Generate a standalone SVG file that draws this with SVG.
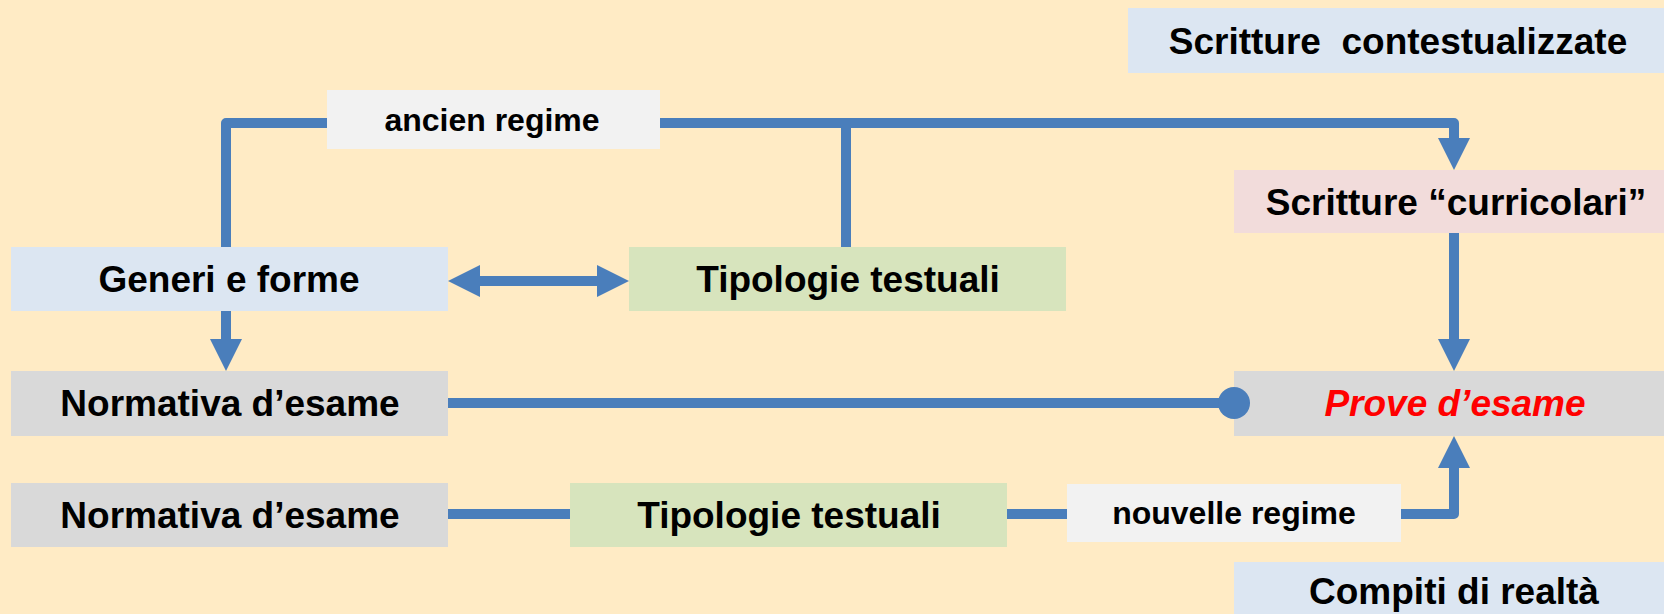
<svg xmlns="http://www.w3.org/2000/svg" width="1664" height="614" viewBox="0 0 1664 614">
  <defs>
    <style>
      .bg { fill: #FFEBC5; }
      .box-blue { fill: #DCE6F2; }
      .box-green { fill: #D7E4BD; }
      .box-grey { fill: #D9D9D9; }
      .box-light { fill: #F2F2F2; }
      .box-pink { fill: #F2DCDB; }
      .lbl { font-family: "Liberation Sans", Arial, sans-serif; font-weight: bold; font-size: 37px; fill: #000; text-anchor: middle; }
      .lbl-sm { font-family: "Liberation Sans", Arial, sans-serif; font-weight: bold; font-size: 32px; fill: #000; text-anchor: middle; }
      .lbl-red { fill: #FF0000; font-style: italic; }
      .pre { white-space: pre; }
      .conn { fill: none; stroke: #4A7EBB; stroke-width: 10; stroke-linejoin: round; }
    </style>
    <!-- arrowhead: base sits on the path end, tip points onward -->
    <marker id="arrow" markerUnits="userSpaceOnUse" markerWidth="32" markerHeight="32" viewBox="0 0 32 32" refX="0" refY="16" orient="auto-start-reverse">
      <path d="M0,0 L32,16 L0,32 Z" fill="#4A7EBB"/>
    </marker>
  </defs>

  <rect class="bg" x="0" y="0" width="1664" height="614"/>

  <g id="scritture-contestualizzate">
    <rect class="box-blue" x="1128" y="8" width="536" height="65"/>
    <text class="lbl pre" x="1398" y="54" xml:space="preserve">Scritture  contestualizzate</text>
  </g>

  <g id="ancien-regime">
    <rect class="box-light" x="327" y="90" width="333" height="59"/>
    <text class="lbl-sm" x="492" y="131">ancien regime</text>
  </g>

  <g id="scritture-curricolari">
    <rect class="box-pink" x="1234" y="170" width="430" height="63"/>
    <text class="lbl" x="1456" y="215">Scritture “curricolari”</text>
  </g>

  <g id="generi-forme">
    <rect class="box-blue" x="11" y="247" width="437" height="64"/>
    <text class="lbl" x="229" y="292">Generi e forme</text>
  </g>

  <g id="tipologie-1">
    <rect class="box-green" x="629" y="247" width="437" height="64"/>
    <text class="lbl" x="848" y="292">Tipologie testuali</text>
  </g>

  <g id="normativa-1">
    <rect class="box-grey" x="11" y="371" width="437" height="65"/>
    <text class="lbl" x="230" y="416">Normativa d’esame</text>
  </g>

  <g id="prove-esame">
    <rect class="box-grey" x="1234" y="371" width="430" height="65"/>
    <text class="lbl lbl-red" x="1455" y="416">Prove d’esame</text>
  </g>

  <g id="normativa-2">
    <rect class="box-grey" x="11" y="483" width="437" height="64"/>
    <text class="lbl" x="230" y="528">Normativa d’esame</text>
  </g>

  <g id="tipologie-2">
    <rect class="box-green" x="570" y="483" width="437" height="64"/>
    <text class="lbl" x="789" y="528">Tipologie testuali</text>
  </g>

  <g id="nouvelle-regime">
    <rect class="box-light" x="1067" y="484" width="334" height="58"/>
    <text class="lbl-sm" x="1234" y="524">nouvelle regime</text>
  </g>

  <g id="compiti-realta">
    <rect class="box-blue" x="1234" y="562" width="430" height="60"/>
    <text class="lbl" x="1454" y="604">Compiti di realtà</text>
  </g>

  <!-- connectors -->
  <g id="connectors">
    <!-- ancien regime: from Generi up and across to Scritture curricolari -->
    <path class="conn" d="M226,247 L226,123 L327,123"/>
    <path class="conn" d="M660,123 L1454,123 L1454,138" marker-end="url(#arrow)"/>
    <path class="conn" d="M846,123 L846,247"/>
    <!-- Generi <-> Tipologie -->
    <path class="conn" d="M480,281 L597,281" marker-start="url(#arrow)" marker-end="url(#arrow)"/>
    <!-- Generi -> Normativa -->
    <path class="conn" d="M226,311 L226,339" marker-end="url(#arrow)"/>
    <!-- Scritture curricolari -> Prove -->
    <path class="conn" d="M1454,233 L1454,339" marker-end="url(#arrow)"/>
    <!-- Normativa -> Prove (ball end) -->
    <path class="conn" d="M448,403 L1234,403"/>
    <circle cx="1234" cy="403" r="16" fill="#4A7EBB"/>
    <!-- nouvelle regime chain -->
    <path class="conn" d="M448,514 L570,514"/>
    <path class="conn" d="M1007,514 L1067,514"/>
    <path class="conn" d="M1401,514 L1454,514 L1454,468" marker-end="url(#arrow)"/>
  </g>
</svg>
